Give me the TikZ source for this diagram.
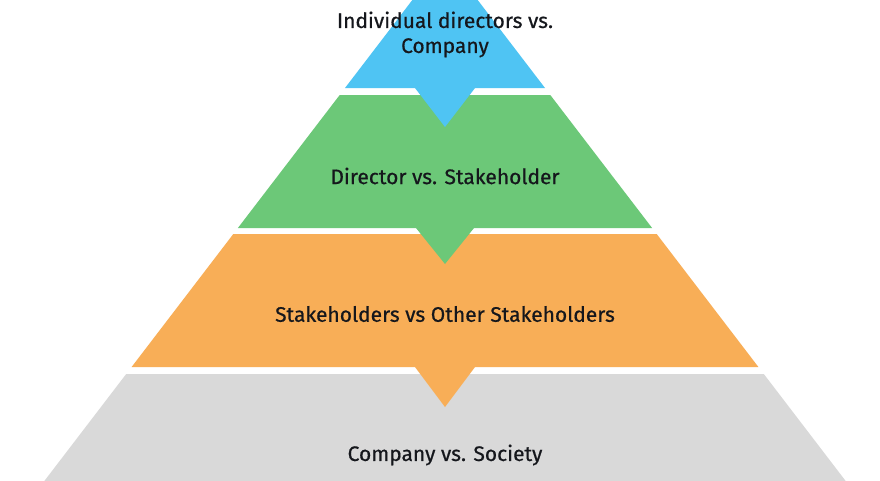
\documentclass[tikz,border=0pt]{standalone}
\usepackage{fontspec}
\setmainfont{Fira Sans}
\newfontfamily\lblfont[FakeBold=0.6]{Fira Sans}
\definecolor{lblue}{HTML}{4FC4F3}
\definecolor{lgreen}{HTML}{6CC878}
\definecolor{lorange}{HTML}{F8AE57}
\definecolor{lgrey}{HTML}{D9D9D9}
\definecolor{ink}{HTML}{15171C}
\tikzset{
  lbl/.style={text=ink, font=\lblfont\fontsize{21}{25}\selectfont, align=center, inner sep=0pt},
}
\begin{document}
\begin{tikzpicture}[x=1pt,y=-1pt]
\useasboundingbox (0,0) rectangle (880,480);
\clip (0,0) rectangle (880,480);
\fill[white] (0,0) rectangle (880,480);
% layers (half width = 0.765*(y+42.7))
\fill[lblue]   (445,-42.7) -- (545,88) -- (345,88) -- cycle;
\fill[lgreen]  (339.7,95) -- (550.3,95) -- (652.1,228) -- (237.9,228) -- cycle;
\fill[lorange] (233.3,234) -- (656.7,234) -- (758.4,367) -- (131.6,367) -- cycle;
\fill[lgrey]   (126.2,374) -- (763.8,374) -- (860.2,500) -- (29.8,500) -- cycle;
% notches
\fill[lblue]   (415,88) -- (475,88) -- (445,127) -- cycle;
\fill[lgreen]  (416,228) -- (474,228) -- (445,264) -- cycle;
\fill[lorange] (415,367) -- (475,367) -- (445,407) -- cycle;
% labels
\node[lbl] (t1) at (445,34.5) {Individual directors vs.\\Company};
\node[lbl] (t2) at (445,176) {Director vs. Stakeholder};
\node[lbl] (t3) at (445,314) {Stakeholders vs Other Stakeholders};
\node[lbl] (t4) at (445,455) {Company vs. Society};
\end{tikzpicture}
\end{document}
